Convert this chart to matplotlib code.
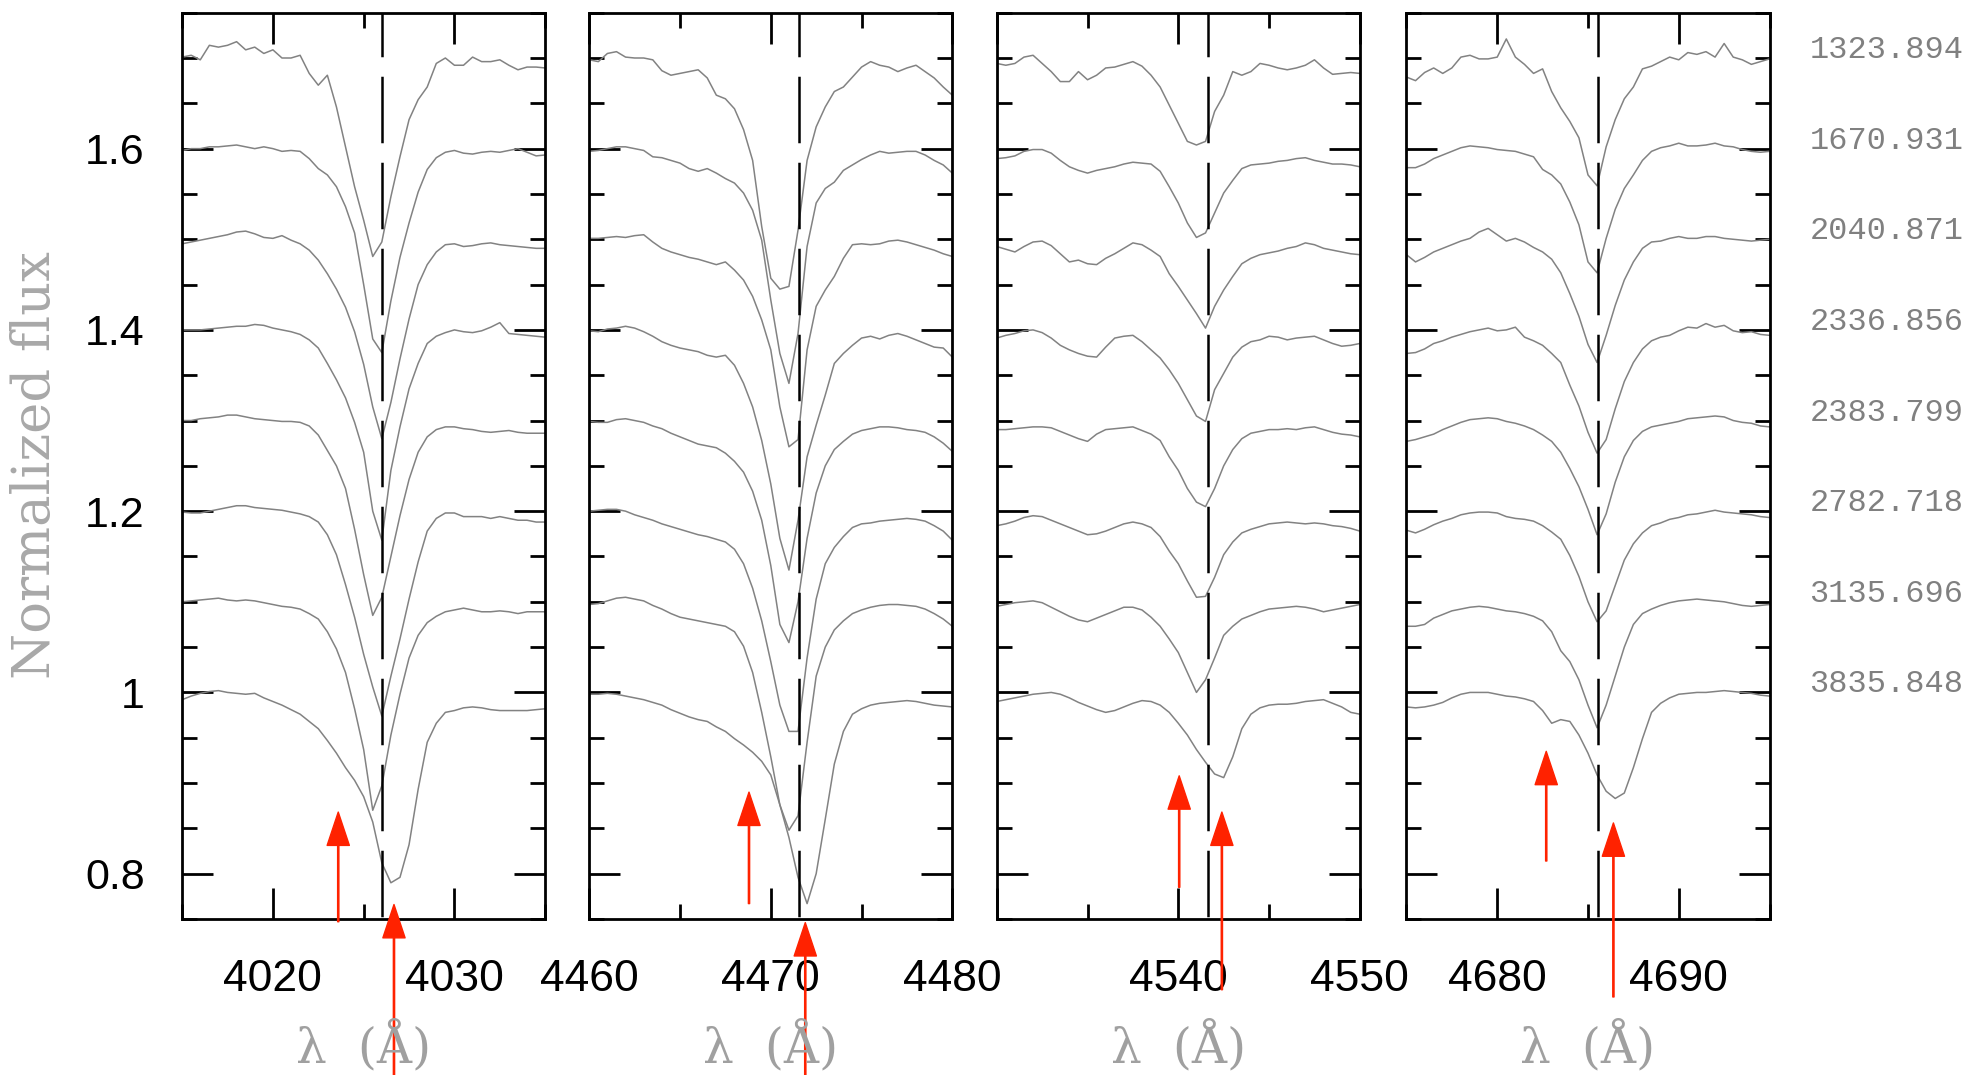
import numpy as np
import matplotlib.pyplot as plt
from matplotlib.ticker import MultipleLocator, FuncFormatter

plt.rcParams['font.family'] = ['Liberation Sans', 'DejaVu Sans']

# epoch labels (top to bottom) and vertical offsets of the stacked spectra
epochs = ["1323.894", "1670.931", "2040.871", "2336.856",
          "2383.799", "2782.718", "3135.696", "3835.848"]
offsets = [0.7, 0.6, 0.5, 0.4, 0.3, 0.2, 0.1, 0.0]

# ---- He I 4026 ----
wl_4026 = [4015.0, 4015.5, 4016.0, 4016.5, 4017.0, 4017.5, 4018.0, 4018.5, 4019.0, 4019.5,
           4020.0, 4020.5, 4021.0, 4021.5, 4022.0, 4022.5, 4023.0, 4023.5, 4024.0, 4024.5,
           4025.0, 4025.5, 4026.0, 4026.5, 4027.0, 4027.5, 4028.0, 4028.5, 4029.0, 4029.5,
           4030.0, 4030.5, 4031.0, 4031.5, 4032.0, 4032.5, 4033.0, 4033.5, 4034.0, 4034.5, 4035.0]
flux_4026 = [
    [1.001, 1.003, 0.998, 1.014, 1.012, 1.014, 1.018, 1.009, 1.012, 1.005,
     1.009, 1.000, 1.000, 1.003, 0.983, 0.970, 0.981, 0.946, 0.902, 0.858,
     0.821, 0.781, 0.797, 0.847, 0.891, 0.932, 0.954, 0.968, 0.994, 1.000,
     0.992, 0.992, 1.001, 0.996, 0.996, 0.998, 0.992, 0.987, 0.990, 0.990, 0.989],
    [0.998, 1.000, 1.000, 1.002, 1.002, 1.003, 1.004, 1.002, 1.000, 1.002,
     1.000, 0.997, 0.998, 0.997, 0.989, 0.978, 0.971, 0.958, 0.936, 0.907,
     0.850, 0.790, 0.775, 0.832, 0.880, 0.918, 0.952, 0.977, 0.990, 0.996,
     0.998, 0.995, 0.994, 0.996, 0.997, 0.996, 0.998, 1.000, 0.996, 0.992, 0.993],
    [0.995, 0.997, 0.999, 1.001, 1.003, 1.005, 1.008, 1.009, 1.006, 1.002,
     1.001, 1.004, 0.999, 0.995, 0.988, 0.977, 0.962, 0.945, 0.925, 0.898,
     0.862, 0.815, 0.780, 0.820, 0.868, 0.912, 0.950, 0.972, 0.986, 0.994,
     0.995, 0.992, 0.993, 0.995, 0.996, 0.994, 0.993, 0.992, 0.991, 0.990, 0.990],
    [1.000, 1.000, 1.000, 1.001, 1.002, 1.003, 1.004, 1.004, 1.006, 1.005,
     1.002, 1.000, 0.998, 0.995, 0.989, 0.980, 0.963, 0.945, 0.925, 0.898,
     0.865, 0.800, 0.768, 0.845, 0.893, 0.935, 0.963, 0.985, 0.993, 0.997,
     1.000, 0.998, 0.997, 0.999, 1.003, 1.008, 0.996, 0.995, 0.994, 0.993, 0.992],
    [1.000, 1.000, 1.002, 1.003, 1.004, 1.006, 1.006, 1.004, 1.002, 1.001,
     1.000, 0.999, 0.999, 0.998, 0.994, 0.984, 0.967, 0.950, 0.925, 0.880,
     0.830, 0.785, 0.805, 0.850, 0.895, 0.935, 0.965, 0.982, 0.990, 0.993,
     0.993, 0.991, 0.990, 0.988, 0.987, 0.988, 0.989, 0.987, 0.986, 0.986, 0.986],
    [0.999, 0.998, 0.998, 1.000, 1.002, 1.004, 1.006, 1.006, 1.004, 1.003,
     1.002, 1.001, 0.999, 0.997, 0.994, 0.988, 0.974, 0.952, 0.919, 0.883,
     0.842, 0.806, 0.774, 0.818, 0.859, 0.903, 0.944, 0.978, 0.992, 0.998,
     0.998, 0.994, 0.994, 0.994, 0.992, 0.994, 0.992, 0.990, 0.990, 0.988, 0.988],
    [1.000, 1.001, 1.002, 1.003, 1.004, 1.002, 1.001, 1.002, 1.001, 0.999,
     0.997, 0.995, 0.994, 0.992, 0.987, 0.981, 0.967, 0.948, 0.922, 0.882,
     0.837, 0.770, 0.797, 0.853, 0.898, 0.938, 0.963, 0.977, 0.984, 0.989,
     0.991, 0.993, 0.991, 0.989, 0.989, 0.990, 0.989, 0.987, 0.989, 0.989, 0.989],
    [0.992, 0.996, 0.999, 1.001, 1.002, 1.000, 0.999, 0.998, 0.999, 0.994,
     0.990, 0.986, 0.981, 0.976, 0.968, 0.960, 0.947, 0.933, 0.917, 0.903,
     0.885, 0.857, 0.812, 0.790, 0.796, 0.832, 0.893, 0.945, 0.966, 0.978,
     0.980, 0.983, 0.984, 0.983, 0.981, 0.980, 0.980, 0.980, 0.980, 0.981, 0.982],
]

# ---- He I 4471 ----
wl_4471 = [4460.0, 4460.5, 4461.0, 4461.5, 4462.0, 4462.5, 4463.0, 4463.5, 4464.0, 4464.5,
           4465.0, 4465.5, 4466.0, 4466.5, 4467.0, 4467.5, 4468.0, 4468.5, 4469.0, 4469.5,
           4470.0, 4470.5, 4471.0, 4471.5, 4472.0, 4472.5, 4473.0, 4473.5, 4474.0, 4474.5,
           4475.0, 4475.5, 4476.0, 4476.5, 4477.0, 4477.5, 4478.0, 4478.5, 4479.0, 4479.5, 4480.0]
flux_4471 = [
    [0.998, 0.996, 1.005, 1.007, 1.001, 1.000, 1.000, 0.998, 0.986, 0.981,
     0.983, 0.985, 0.987, 0.978, 0.959, 0.955, 0.944, 0.921, 0.887, 0.814,
     0.757, 0.745, 0.748, 0.810, 0.887, 0.924, 0.946, 0.963, 0.968, 0.979,
     0.990, 0.996, 0.992, 0.990, 0.985, 0.989, 0.992, 0.985, 0.978, 0.968, 0.959],
    [0.997, 0.998, 1.000, 1.002, 1.002, 1.000, 0.998, 0.991, 0.990, 0.987,
     0.984, 0.978, 0.975, 0.978, 0.973, 0.967, 0.962, 0.951, 0.932, 0.899,
     0.833, 0.774, 0.741, 0.796, 0.892, 0.940, 0.956, 0.963, 0.976, 0.982,
     0.988, 0.993, 0.997, 0.995, 0.996, 0.997, 0.997, 0.993, 0.987, 0.982, 0.973],
    [1.001, 1.001, 1.002, 1.003, 1.002, 1.004, 1.005, 0.997, 0.990, 0.986,
     0.983, 0.980, 0.978, 0.975, 0.972, 0.975, 0.966, 0.955, 0.937, 0.911,
     0.878, 0.815, 0.771, 0.779, 0.878, 0.926, 0.944, 0.959, 0.979, 0.994,
     0.995, 0.994, 0.995, 0.998, 0.999, 0.997, 0.994, 0.991, 0.988, 0.984, 0.981],
    [0.999, 0.998, 1.001, 1.002, 1.004, 1.002, 0.998, 0.993, 0.987, 0.983,
     0.980, 0.978, 0.976, 0.972, 0.970, 0.972, 0.961, 0.941, 0.915, 0.878,
     0.830, 0.770, 0.735, 0.790, 0.860, 0.895, 0.928, 0.963, 0.974, 0.983,
     0.991, 0.993, 0.990, 0.994, 0.996, 0.993, 0.989, 0.985, 0.981, 0.980, 0.970],
    [0.999, 0.998, 0.998, 1.001, 1.002, 1.000, 0.998, 0.994, 0.991, 0.986,
     0.982, 0.978, 0.974, 0.972, 0.970, 0.964, 0.955, 0.943, 0.922, 0.890,
     0.840, 0.775, 0.755, 0.800, 0.870, 0.920, 0.950, 0.968, 0.977, 0.985,
     0.989, 0.991, 0.993, 0.993, 0.992, 0.990, 0.989, 0.987, 0.982, 0.975, 0.966],
    [1.000, 1.001, 1.002, 1.002, 1.000, 0.996, 0.993, 0.990, 0.986, 0.983,
     0.980, 0.977, 0.974, 0.972, 0.969, 0.966, 0.958, 0.942, 0.915, 0.879,
     0.834, 0.786, 0.757, 0.757, 0.838, 0.903, 0.942, 0.960, 0.972, 0.982,
     0.986, 0.987, 0.989, 0.990, 0.991, 0.992, 0.991, 0.989, 0.984, 0.978, 0.968],
    [0.997, 0.998, 1.001, 1.004, 1.005, 1.003, 1.001, 0.996, 0.992, 0.987,
     0.983, 0.981, 0.979, 0.977, 0.975, 0.973, 0.967, 0.951, 0.922, 0.878,
     0.829, 0.776, 0.748, 0.764, 0.845, 0.918, 0.950, 0.969, 0.979, 0.987,
     0.991, 0.994, 0.996, 0.997, 0.997, 0.996, 0.995, 0.992, 0.987, 0.981, 0.973],
    [0.998, 0.998, 0.999, 0.998, 0.996, 0.994, 0.992, 0.989, 0.986, 0.981,
     0.977, 0.973, 0.970, 0.968, 0.962, 0.957, 0.949, 0.942, 0.934, 0.924,
     0.909, 0.876, 0.840, 0.796, 0.767, 0.800, 0.860, 0.921, 0.957, 0.976,
     0.982, 0.986, 0.988, 0.989, 0.990, 0.991, 0.990, 0.988, 0.986, 0.985, 0.984],
]

# ---- He II 4541 ----
wl_4541 = [4530.0, 4530.5, 4531.0, 4531.5, 4532.0, 4532.5, 4533.0, 4533.5, 4534.0, 4534.5,
           4535.0, 4535.5, 4536.0, 4536.5, 4537.0, 4537.5, 4538.0, 4538.5, 4539.0, 4539.5,
           4540.0, 4540.5, 4541.0, 4541.5, 4542.0, 4542.5, 4543.0, 4543.5, 4544.0, 4544.5,
           4545.0, 4545.5, 4546.0, 4546.5, 4547.0, 4547.5, 4548.0, 4548.5, 4549.0, 4549.5, 4550.0]
flux_4541 = [
    [0.994, 0.992, 0.994, 1.001, 1.003, 0.994, 0.985, 0.974, 0.974, 0.985,
     0.976, 0.981, 0.989, 0.990, 0.993, 0.996, 0.991, 0.981, 0.968, 0.948,
     0.928, 0.908, 0.904, 0.908, 0.941, 0.959, 0.985, 0.981, 0.985, 0.994,
     0.992, 0.989, 0.987, 0.989, 0.992, 0.998, 0.989, 0.982, 0.983, 0.984, 0.983],
    [0.989, 0.990, 0.992, 0.997, 0.999, 0.999, 0.995, 0.987, 0.980, 0.976,
     0.973, 0.976, 0.978, 0.980, 0.983, 0.985, 0.984, 0.983, 0.975, 0.958,
     0.940, 0.918, 0.902, 0.907, 0.929, 0.951, 0.965, 0.978, 0.982, 0.983,
     0.984, 0.986, 0.987, 0.989, 0.990, 0.987, 0.985, 0.983, 0.983, 0.982, 0.980],
    [0.992, 0.989, 0.986, 0.992, 0.997, 0.998, 0.993, 0.984, 0.975, 0.977,
     0.973, 0.972, 0.979, 0.984, 0.990, 0.996, 0.994, 0.988, 0.981, 0.962,
     0.948, 0.933, 0.918, 0.902, 0.926, 0.944, 0.959, 0.973, 0.979, 0.983,
     0.985, 0.987, 0.990, 0.992, 0.996, 0.994, 0.990, 0.988, 0.986, 0.984, 0.983],
    [0.991, 0.994, 0.996, 0.999, 1.000, 0.997, 0.991, 0.983, 0.978, 0.974,
     0.971, 0.970, 0.981, 0.991, 0.993, 0.994, 0.987, 0.978, 0.969, 0.956,
     0.941, 0.923, 0.905, 0.899, 0.934, 0.952, 0.970, 0.981, 0.987, 0.989,
     0.993, 0.992, 0.989, 0.991, 0.992, 0.993, 0.989, 0.985, 0.982, 0.983, 0.985],
    [0.990, 0.990, 0.991, 0.992, 0.993, 0.993, 0.992, 0.988, 0.984, 0.980,
     0.977, 0.985, 0.990, 0.991, 0.992, 0.993, 0.989, 0.985, 0.978, 0.960,
     0.945, 0.925, 0.910, 0.905, 0.925, 0.950, 0.968, 0.980, 0.986, 0.988,
     0.990, 0.990, 0.991, 0.990, 0.992, 0.993, 0.990, 0.987, 0.985, 0.984, 0.982],
    [0.984, 0.986, 0.989, 0.993, 0.995, 0.994, 0.990, 0.986, 0.982, 0.978,
     0.974, 0.975, 0.978, 0.982, 0.986, 0.988, 0.986, 0.982, 0.972, 0.956,
     0.942, 0.923, 0.905, 0.906, 0.927, 0.952, 0.966, 0.976, 0.980, 0.983,
     0.986, 0.987, 0.988, 0.987, 0.986, 0.987, 0.986, 0.984, 0.983, 0.981, 0.978],
    [0.995, 0.997, 0.999, 1.000, 1.001, 0.999, 0.994, 0.989, 0.984, 0.980,
     0.978, 0.982, 0.986, 0.990, 0.994, 0.994, 0.991, 0.983, 0.973, 0.959,
     0.944, 0.922, 0.900, 0.914, 0.938, 0.963, 0.973, 0.981, 0.985, 0.989,
     0.992, 0.993, 0.994, 0.995, 0.994, 0.992, 0.989, 0.991, 0.993, 0.995, 0.997],
    [0.990, 0.992, 0.994, 0.996, 0.998, 0.999, 1.000, 0.998, 0.994, 0.989,
     0.985, 0.981, 0.978, 0.980, 0.984, 0.988, 0.991, 0.990, 0.986, 0.978,
     0.966, 0.953, 0.937, 0.923, 0.910, 0.906, 0.929, 0.960, 0.976, 0.983,
     0.986, 0.987, 0.987, 0.988, 0.990, 0.991, 0.992, 0.988, 0.984, 0.978, 0.976],
]

# ---- He II 4686 ----
wl_4686 = [4675.0, 4675.5, 4676.0, 4676.5, 4677.0, 4677.5, 4678.0, 4678.5, 4679.0, 4679.5,
           4680.0, 4680.5, 4681.0, 4681.5, 4682.0, 4682.5, 4683.0, 4683.5, 4684.0, 4684.5,
           4685.0, 4685.5, 4686.0, 4686.5, 4687.0, 4687.5, 4688.0, 4688.5, 4689.0, 4689.5,
           4690.0, 4690.5, 4691.0, 4691.5, 4692.0, 4692.5, 4693.0, 4693.5, 4694.0, 4694.5, 4695.0]
flux_4686 = [
    [0.979, 0.975, 0.984, 0.989, 0.983, 0.989, 1.001, 1.003, 0.999, 0.999,
     1.001, 1.021, 1.001, 0.993, 0.983, 0.988, 0.963, 0.945, 0.930, 0.912,
     0.871, 0.859, 0.902, 0.932, 0.955, 0.968, 0.988, 0.991, 0.996, 1.001,
     0.998, 1.006, 1.004, 1.007, 1.001, 1.016, 1.001, 0.998, 0.993, 0.996, 0.999],
    [0.979, 0.979, 0.983, 0.989, 0.993, 0.997, 1.001, 1.003, 1.002, 1.001,
     0.999, 0.998, 0.997, 0.994, 0.991, 0.977, 0.971, 0.961, 0.941, 0.916,
     0.875, 0.863, 0.901, 0.933, 0.956, 0.971, 0.987, 0.997, 1.001, 1.003,
     1.006, 1.003, 1.003, 1.004, 1.006, 1.003, 1.002, 0.999, 0.997, 0.996, 0.997],
    [0.983, 0.975, 0.980, 0.986, 0.990, 0.994, 0.998, 1.001, 1.008, 1.012,
     1.005, 0.998, 1.001, 0.997, 0.991, 0.986, 0.978, 0.963, 0.940, 0.915,
     0.884, 0.864, 0.894, 0.927, 0.955, 0.975, 0.990, 0.997, 0.998, 1.001,
     1.003, 1.001, 1.001, 1.003, 1.003, 1.001, 1.000, 0.999, 0.998, 0.999, 1.000],
    [0.974, 0.975, 0.979, 0.985, 0.988, 0.992, 0.995, 0.998, 1.000, 1.002,
     0.999, 1.000, 1.003, 0.992, 0.988, 0.983, 0.974, 0.964, 0.939, 0.916,
     0.887, 0.864, 0.879, 0.913, 0.943, 0.964, 0.979, 0.988, 0.992, 0.994,
     0.999, 1.003, 1.002, 1.007, 1.003, 1.005, 0.999, 0.997, 0.998, 0.995, 0.994],
    [0.977, 0.979, 0.982, 0.985, 0.990, 0.994, 0.998, 1.001, 1.002, 1.003,
     1.002, 0.999, 0.997, 0.994, 0.990, 0.984, 0.977, 0.965, 0.947, 0.927,
     0.902, 0.874, 0.897, 0.932, 0.960, 0.978, 0.988, 0.993, 0.995, 0.997,
     0.999, 1.002, 1.003, 1.004, 1.005, 1.004, 1.000, 0.998, 0.997, 0.994, 0.993],
    [0.979, 0.976, 0.980, 0.985, 0.989, 0.992, 0.996, 0.998, 0.999, 0.999,
     0.998, 0.994, 0.992, 0.991, 0.989, 0.984, 0.977, 0.969, 0.951, 0.928,
     0.900, 0.878, 0.890, 0.918, 0.946, 0.964, 0.976, 0.984, 0.987, 0.991,
     0.993, 0.996, 0.997, 0.999, 1.001, 0.999, 0.998, 0.997, 0.996, 0.994, 0.993],
    [0.973, 0.973, 0.975, 0.982, 0.986, 0.990, 0.992, 0.994, 0.995, 0.994,
     0.992, 0.990, 0.989, 0.987, 0.984, 0.979, 0.967, 0.946, 0.934, 0.914,
     0.886, 0.861, 0.886, 0.918, 0.950, 0.975, 0.987, 0.992, 0.996, 0.999,
     1.001, 1.002, 1.003, 1.002, 1.001, 1.000, 0.998, 0.996, 0.995, 0.996, 0.997],
    [0.984, 0.983, 0.984, 0.986, 0.989, 0.994, 0.998, 1.000, 1.000, 1.000,
     0.998, 0.996, 0.995, 0.993, 0.990, 0.980, 0.966, 0.970, 0.968, 0.953,
     0.933, 0.909, 0.891, 0.883, 0.889, 0.917, 0.949, 0.978, 0.988, 0.994,
     0.998, 0.999, 1.000, 1.000, 1.001, 1.002, 1.001, 1.000, 0.999, 0.997, 0.996],
]

panel_wl = [wl_4026, wl_4471, wl_4541, wl_4686]
panel_flux = [flux_4026, flux_4471, flux_4541, flux_4686]
xlims = [(4015, 4035), (4460, 4480), (4530, 4550), (4675, 4695)]
rest_wl = [4026.0, 4471.55, 4541.65, 4685.55]

# red arrows: (wavelength, tip, tail) for the two components
arrows = [
    [(4023.6, 0.868, 0.747), (4026.67, 0.766, 0.56)],
    [(4468.8, 0.890, 0.767), (4471.9, 0.746, 0.56)],
    [(4540.05, 0.908, 0.785), (4542.4, 0.868, 0.672)],
    [(4682.7, 0.935, 0.814), (4686.4, 0.856, 0.664)],
]

fig = plt.figure(figsize=(19.84, 10.75), dpi=100)

lefts = [0.0918, 0.2970, 0.5024, 0.7089]
width = 0.1830
bottom = 0.1451
height = 0.8431

for i in range(4):
    ax = fig.add_axes([lefts[i], bottom, width, height])
    wl = np.array(panel_wl[i])
    for k in range(8):
        ax.plot(wl, np.array(panel_flux[i][k]) + offsets[k], color='#828282', lw=1.1)

    # rest wavelength, dashes start at the top
    ax.plot([rest_wl[i], rest_wl[i]], [1.75, 0.75], color='black', lw=1.8,
            linestyle=(9.1, (26.6, 7.8)))

    for (xa, tip, tail) in arrows[i]:
        ax.annotate('', xy=(xa, tip), xytext=(xa, tail),
                    arrowprops=dict(color='#ff2200', width=0.9, headwidth=16,
                                    headlength=24, shrink=0),
                    annotation_clip=False)

    ax.set_xlim(xlims[i])
    ax.set_ylim(0.75, 1.75)
    ax.xaxis.set_major_locator(MultipleLocator(10))
    ax.xaxis.set_minor_locator(MultipleLocator(5))
    ax.yaxis.set_major_locator(MultipleLocator(0.2))
    ax.yaxis.set_minor_locator(MultipleLocator(0.05))
    ax.yaxis.set_major_formatter(FuncFormatter(lambda v, p: '%g' % v))
    if i == 2:
        ax.xaxis.set_major_formatter(FuncFormatter(lambda v, p: '' if abs(v - 4530) < 1 else '%d' % v))

    ax.tick_params(which='both', direction='in', top=True, right=True,
                   width=2, labelsize=31, color='black')
    ax.tick_params(which='major', length=22)
    ax.tick_params(which='minor', length=11)
    ax.tick_params(axis='x', pad=29, labelsize=32)
    ax.tick_params(axis='y', pad=27)
    if i > 0:
        ax.tick_params(axis='y', labelleft=False)
    for s in ax.spines.values():
        s.set_linewidth(2)

    fig.text(lefts[i] + width / 2, 0.012, 'λ  (Å)', ha='center', va='baseline',
             family='DejaVu Serif', fontsize=35, color='#a0a0a0')

    if i == 3:
        for k in range(8):
            ax.text(1.110, 1.0 + offsets[k], epochs[k], transform=ax.get_yaxis_transform(),
                    ha='left', va='baseline', family='Liberation Mono', fontsize=23,
                    color='#808080')

fig.text(0.0181, 0.567, 'Normalized flux', rotation=90, ha='center', va='center',
         family='DejaVu Serif', fontsize=38, color='#a8a8a8')

fig.savefig('out.png', dpi=100)
